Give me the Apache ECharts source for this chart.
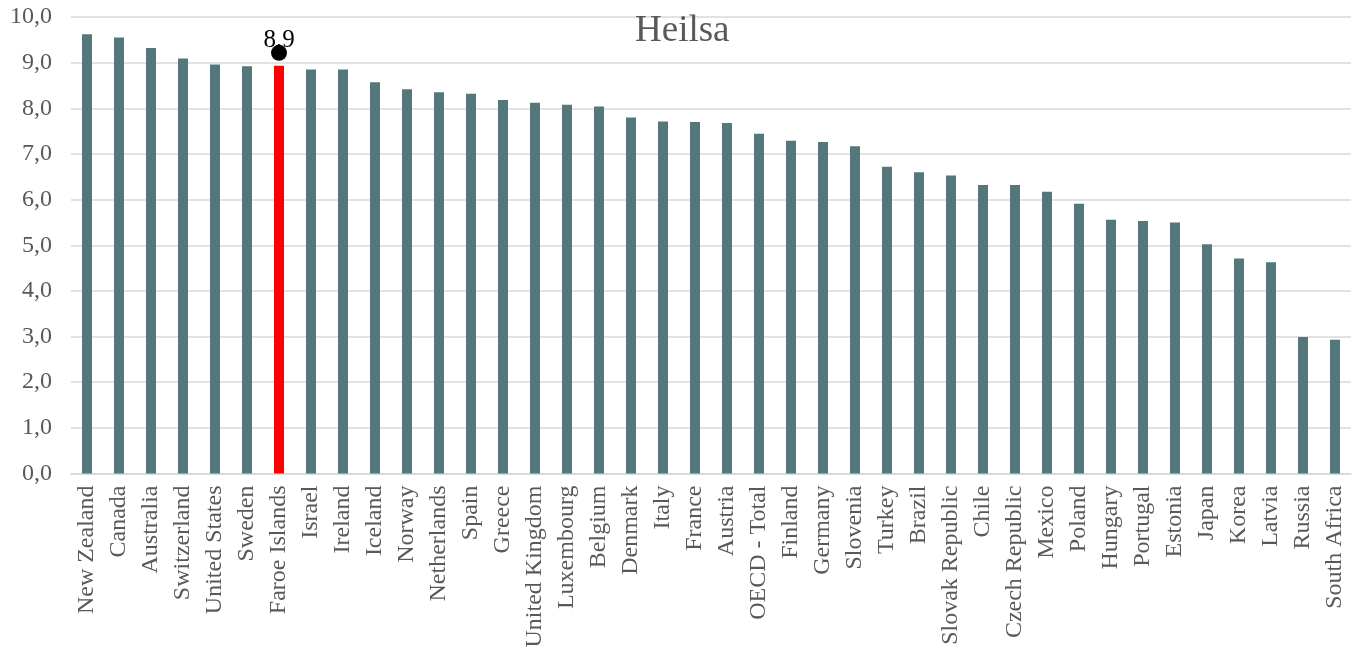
<!DOCTYPE html>
<html>
<head>
<meta charset="utf-8">
<script src="https://cdn.jsdelivr.net/npm/echarts@6/dist/echarts.min.js"></script>
<style>
html,body{margin:0;padding:0;background:#fff;}
#chart{width:1353px;height:651px;}
</style>
</head>
<body>
<div id="chart"></div>
<script>
const categories = ["New Zealand","Canada","Australia","Switzerland","United States","Sweden","Faroe Islands","Israel","Ireland","Iceland","Norway","Netherlands","Spain","Greece","United Kingdom","Luxembourg","Belgium","Denmark","Italy","France","Austria","OECD - Total","Finland","Germany","Slovenia","Turkey","Brazil","Slovak Republic","Chile","Czech Republic","Mexico","Poland","Hungary","Portugal","Estonia","Japan","Korea","Latvia","Russia","South Africa"];
const values = [9.62,9.55,9.32,9.09,8.96,8.92,8.93,8.85,8.85,8.57,8.42,8.35,8.32,8.18,8.12,8.08,8.04,7.80,7.71,7.70,7.68,7.44,7.29,7.26,7.17,6.72,6.60,6.53,6.32,6.32,6.17,5.91,5.56,5.53,5.50,5.02,4.71,4.63,2.99,2.93];
const highlightCategory = "Faroe Islands";
const yTicks = [0,1,2,3,4,5,6,7,8,9,10];
const titleText = "Heilsa";

const FONT = "'Liberation Serif','Times New Roman',serif";
const fmt = v => v.toFixed(1).replace('.', ',');
const hiIdx = categories.indexOf(highlightCategory);

const barData = values.map((v, i) => {
  if (i === hiIdx) {
    return {
      value: v,
      itemStyle: { color: '#FF0000' },
      label: {
        show: true, position: 'top', distance: 13,
        formatter: p => fmt(p.value),
        color: '#000', fontFamily: FONT, fontSize: 25
      }
    };
  }
  return v;
});

const chart = echarts.init(document.getElementById('chart'), null, {renderer: 'canvas'});
chart.setOption({
  animation: false,
  backgroundColor: '#fff',
  title: {
    text: titleText, left: 630, top: 8,
    textStyle: { fontFamily: FONT, fontSize: 37, fontWeight: 'normal', color: '#595959' }
  },
  grid: { left: 71, right: 2, top: 17, bottom: 177.5, containLabel: false },
  xAxis: {
    type: 'category', data: categories,
    axisTick: { show: false },
    axisLine: { lineStyle: { color: '#d9d9d9', width: 1.5 } },
    axisLabel: {
      rotate: 90, interval: 0, margin: 12,
      fontFamily: FONT, fontSize: 24, color: '#595959'
    }
  },
  yAxis: {
    type: 'value', min: yTicks[0], max: yTicks[yTicks.length - 1], interval: 1,
    axisLine: { show: false }, axisTick: { show: false },
    splitLine: { lineStyle: { color: '#d9d9d9', width: 1.5 } },
    axisLabel: {
      formatter: v => fmt(v), margin: 19,
      fontFamily: FONT, fontSize: 24, color: '#595959'
    }
  },
  series: [
    {
      type: 'bar', data: barData, barWidth: 10,
      itemStyle: { color: '#53777A' }
    },
    {
      type: 'scatter', z: 10,
      data: [[highlightCategory, values[hiIdx]]],
      symbol: 'circle', symbolSize: 16, symbolOffset: [0, -13],
      itemStyle: { color: '#000', opacity: 1 }
    }
  ]
});
</script>
</body>
</html>
